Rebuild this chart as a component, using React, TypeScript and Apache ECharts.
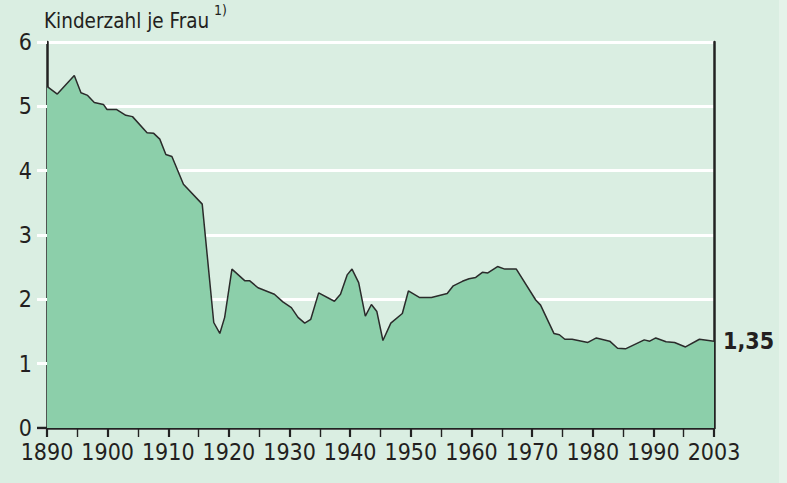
import React, { useEffect, useRef } from "react";
import * as echarts from "echarts";

// Positions on the chart's time axis (the axis ends at its "2003" mark)
const years = [
  1890, 1891.7, 1894.5, 1895.6, 1896.7, 1897.8, 1899.3, 1899.9, 1901.5, 1903,
  1904.1, 1906.5, 1907.6, 1908.6, 1909.6, 1910.6, 1912.5, 1915.6, 1917.5, 1918.5,
  1919.3, 1920.5, 1922.6, 1923.4, 1924.8, 1927.5, 1928.9, 1930.3, 1931.4, 1932.5,
  1933.5, 1934.8, 1937.4, 1938.4, 1939.5, 1940.3, 1941.4, 1942.5, 1943.5, 1944.4,
  1945.4, 1946.7, 1948.6, 1949.6, 1951.4, 1953.4, 1956, 1957, 1958.5, 1959.6,
  1960.7, 1961.8, 1962.7, 1964.3, 1965.5, 1967.4, 1970.6, 1971.4, 1973.6, 1974.5,
  1975.4, 1976.6, 1979.2, 1980.6, 1982.8, 1984.1, 1985.4, 1988.5, 1989.4, 1990.4,
  1992.1, 1993.5, 1995.3, 1997.6, 2000,
];

const kinderzahl = [
  5.31, 5.19, 5.48, 5.21, 5.17, 5.06, 5.03, 4.95, 4.95, 4.86,
  4.84, 4.59, 4.58, 4.49, 4.25, 4.22, 3.79, 3.48, 1.64, 1.47,
  1.72, 2.47, 2.29, 2.29, 2.18, 2.08, 1.96, 1.87, 1.72, 1.63,
  1.69, 2.1, 1.97, 2.08, 2.38, 2.47, 2.26, 1.74, 1.92, 1.81,
  1.36, 1.63, 1.78, 2.13, 2.03, 2.03, 2.09, 2.21, 2.28, 2.32,
  2.34, 2.42, 2.41, 2.51, 2.47, 2.47, 1.99, 1.91, 1.47, 1.45,
  1.38, 1.38, 1.33, 1.4, 1.35, 1.24, 1.23, 1.37, 1.35, 1.4,
  1.34, 1.33, 1.26, 1.38, 1.35,
];

const xTickLabels: Record<number, string> = {
  1890: "1890", 1900: "1900", 1910: "1910", 1920: "1920", 1930: "1930",
  1940: "1940", 1950: "1950", 1960: "1960", 1970: "1970", 1980: "1980",
  1990: "1990", 2000: "2003",
};

const titleText = "Kinderzahl je Frau";
const footnoteMark = "1)";

const FONT = '"Liberation Sans Narrow", "DejaVu Sans Condensed", "Roboto", sans-serif';
const TEXT = "#231f20";

export default function App() {
  const ref = useRef<HTMLDivElement>(null);
  useEffect(() => {
    if (!ref.current) return;
    document.body.style.margin = "0";
    const chart = echarts.init(ref.current, undefined, { renderer: "svg" });
    const data = years.map((y, i) => [y, kinderzahl[i]]);
    chart.setOption({
      animation: false,
      backgroundColor: "#daeee2",
      grid: { left: 47, right: 73, top: 42, bottom: 55 },
      xAxis: {
        type: "value",
        min: 1890,
        max: 2000,
        interval: 10,
        axisLine: { show: true, onZero: false, lineStyle: { color: "#222", width: 2.5 } },
        axisTick: { show: true, length: 9, lineStyle: { color: "#222", width: 2.2 } },
        minorTick: { show: true, splitNumber: 2, length: 9, lineStyle: { color: "#222", width: 1.4 } },
        splitLine: { show: false },
        axisLabel: {
          margin: 12,
          fontSize: 23,
          fontFamily: FONT,
          color: TEXT,
          formatter: (v: number) => xTickLabels[v] ?? "",
        },
      },
      yAxis: [
        {
          type: "value",
          min: 0,
          max: 6,
          interval: 1,
          axisLine: { show: true, lineStyle: { color: "#222", width: 2.5 } },
          axisTick: { show: true, length: 10, lineStyle: { color: "#ffffff", width: 3 } },
          splitLine: { show: true, lineStyle: { color: "#ffffff", width: 3 } },
          axisLabel: { margin: 15, fontSize: 23, fontFamily: FONT, color: TEXT },
        },
        {
          type: "value",
          min: 0,
          max: 6,
          position: "right",
          axisLine: { show: true, lineStyle: { color: "#222", width: 2.5 } },
          axisTick: { show: false },
          axisLabel: { show: false },
          splitLine: { show: false },
        },
      ],
      series: [
        {
          type: "line",
          data,
          symbol: "none",
          z: 1,
          lineStyle: { color: "#2b2b2b", width: 1.5 },
          areaStyle: { color: "#8ccfaa", opacity: 1 },
          endLabel: {
            show: true,
            distance: 9,
            fontSize: 23,
            fontWeight: "bold",
            fontFamily: FONT,
            color: TEXT,
            formatter: (p: any) => p.value[1].toFixed(2).replace(".", ","),
          },
        },
      ],
    });
    const p0 = chart.convertToPixel({ gridIndex: 0 }, [1890, 0]) as number[];
    chart.setOption({
      graphic: [
        {
          type: "rect",
          z: -1,
          silent: true,
          shape: { x: 779, y: 0, width: 8, height: 483 },
          style: { fill: "#e5f3ea" },
        },
        {
          type: "line",
          z: 100,
          shape: { x1: p0[0] - 10, y1: p0[1], x2: p0[0], y2: p0[1] },
          style: { stroke: "#222", lineWidth: 2.5 },
        },
        {
          type: "text",
          x: 44,
          y: 10,
          style: { text: titleText, font: `20.5px ${FONT}`, fill: TEXT },
        },
        {
          type: "text",
          x: 214,
          y: 3,
          style: { text: footnoteMark, font: `14px ${FONT}`, fill: TEXT },
        },
      ],
    });
    return () => chart.dispose();
  }, []);
  return <div ref={ref} style={{ position: "fixed", left: 0, top: 0, width: 787, height: 483 }} />;
}
